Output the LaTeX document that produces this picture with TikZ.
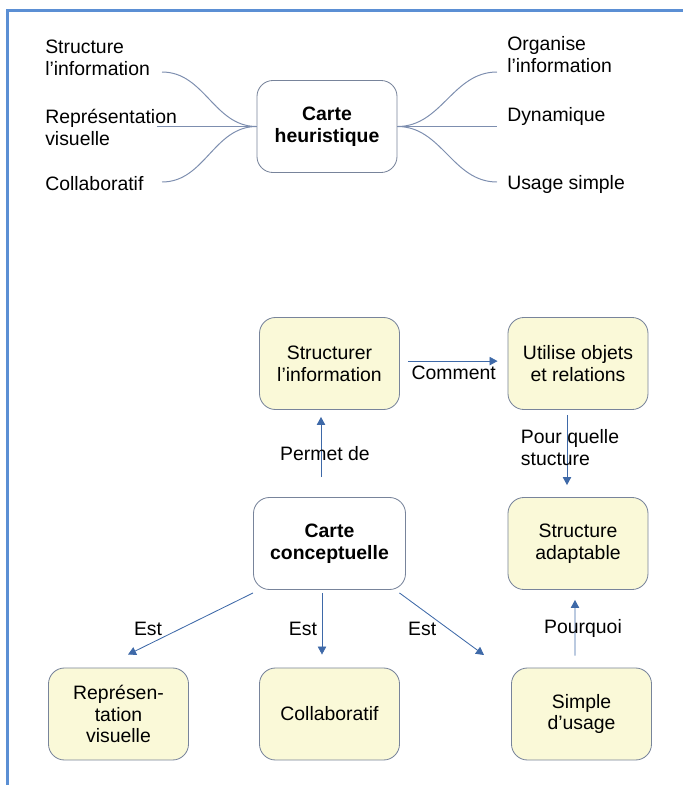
\documentclass[tikz,border=0pt]{standalone}
\usepackage{fontspec}
\setmainfont{Liberation Sans}
\usepackage{tikz}
\usetikzlibrary{arrows.meta}
\definecolor{framecol}{RGB}{91,143,212}
\definecolor{branchcol}{RGB}{125,142,175}
\definecolor{linkcol}{RGB}{62,105,168}
\definecolor{boxborder}{RGB}{120,132,155}
\definecolor{boxfill}{RGB}{250,249,216}
\tikzset{
    txt/.style={font=\fontsize{13.8pt}{15.6pt}\selectfont, inner sep=0pt},
    bold/.style={font=\fontsize{13.8pt}{15.6pt}\selectfont\bfseries},
    carte/.style={txt, draw=boxborder, line width=0.6pt, rounded corners=0.4cm, minimum width=3.5cm, minimum height=2.3cm, align=center, fill=white},
    notion/.style={carte, fill=boxfill},
    branch/.style={draw=branchcol, line width=0.7pt},
    link/.style={draw=linkcol, line width=0.6pt, -{Triangle[length=0.2cm,width=0.21cm]}},
}
\begin{document}
\begin{tikzpicture}[x=0.025cm, y=-0.025cm]
    \useasboundingbox (0,0) rectangle (683,785);
    \draw[framecol, line width=1.7pt] (683,10.5)--(7.5,10.5)--(7.5,785);

    % carte heuristique
    \node[carte, bold] (heur) at (327,126.5) {Carte\\heuristique};
    \node[txt, anchor=west, align=left] (lstruct) at (45,58) {Structure\\l'information};
    \node[txt, anchor=west, align=left] (lrepr) at (45,127) {Représentation\\visuelle};
    \node[txt, anchor=west] (lcollab) at (45,184) {Collaboratif};
    \node[txt, anchor=west, align=left] (rorg) at (507,55) {Organise\\l'information};
    \node[txt, anchor=west] (rdyn) at (507,116) {Dynamique};
    \node[txt, anchor=west] (rusage) at (507,184) {Usage simple};
    \coordinate (b1) at (162,72);
    \coordinate (b2) at (157,126.5);
    \coordinate (b3) at (162,182);
    \coordinate (b4) at (497,72);
    \coordinate (b5) at (497,126.5);
    \coordinate (b6) at (497,182);
    \draw[branch] (b1) to[out=0,in=180] (heur.west);
    \draw[branch] (b2)--(heur.west);
    \draw[branch] (b3) to[out=0,in=180] (heur.west);
    \draw[branch] (heur.east) to[out=0,in=180] (b4);
    \draw[branch] (heur.east)--(b5);
    \draw[branch] (heur.east) to[out=0,in=180] (b6);

    % carte conceptuelle
    \node[notion] (struct) at (329.5,363.5) {Structurer\\l'information};
    \node[notion] (objets) at (578,363.5) {Utilise objets\\et relations};
    \node[carte, bold, minimum width=3.8cm] (concept) at (329.5,543.5) {Carte\\conceptuelle};
    \node[notion] (adapt) at (578,543.5) {Structure\\adaptable};
    \node[notion] (repr) at (118.5,714) {Représen-\\tation\\visuelle};
    \node[notion] (collab) at (329.5,714) {Collaboratif};
    \node[notion] (simple) at (581.5,714) {Simple\\d'usage};
    \coordinate (vide) at (484,655);

    \draw[link, shorten <=0.2cm, shorten >=0.25cm] ([yshift=0.06cm]struct.east)--node[txt, below=0.1cm]{Comment}([yshift=0.06cm]objets.west);
    \draw[link, shorten <=0.125cm, shorten >=0.3cm] ([xshift=-0.275cm]objets.south)--node[txt, align=left, xshift=0.075cm, yshift=0.15cm]{Pour quelle\\stucture}([xshift=-0.275cm]adapt.north);
    \draw[link, shorten <=0.5cm, shorten >=0.175cm] ([xshift=-0.2125cm]concept.north)--node[txt, xshift=0.1cm]{Permet de}([xshift=-0.2125cm]struct.south);
    \draw[link] ([yshift=-0.075cm]concept.south west)--node[txt, xshift=-1.0625cm, yshift=-0.125cm]{Est}([xshift=0.2375cm, yshift=0.325cm]repr.north);
    \draw[link, shorten <=0.075cm, shorten >=0.325cm] ([xshift=-0.1875cm]concept.south)--node[txt, xshift=-0.475cm]{Est}([xshift=-0.1875cm]collab.north);
    \draw[link] ([xshift=-0.1625cm, yshift=-0.075cm]concept.south east)--node[txt, xshift=-0.4875cm, yshift=-0.125cm]{Est}(vide);
    \draw[link, shorten <=0.3cm, shorten >=0.25cm] ([xshift=-0.1625cm]simple.north)--node[txt, xshift=0.2cm]{Pourquoi}([xshift=-0.075cm]adapt.south);
\end{tikzpicture}
\end{document}
